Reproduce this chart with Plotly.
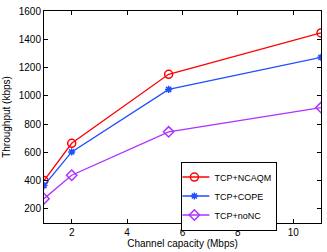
import plotly.graph_objects as go

capacity = [1, 2, 5.5, 11]
ncaqm = [400, 664, 1152, 1445]
cope = [365, 603, 1045, 1272]
nonc = [272, 438, 745, 917]

series = [
    ("TCP+NCAQM", ncaqm, "#ff0000", "circle-open", 8),
    ("TCP+COPE", cope, "#1f4fff", "asterisk-open", 6),
    ("TCP+noNC", nonc, "#b030ff", "diamond-open", 8),
]

fig = go.Figure()
for name, vals, col, sym, sz in series:
    fig.add_trace(go.Scatter(
        x=capacity, y=vals, name=name, mode="lines+markers",
        line=dict(color=col, width=1.3),
        marker=dict(symbol=sym, size=sz, color=col, line=dict(color=col, width=1.5)),
    ))
fig.add_trace(go.Scatter(x=capacity, y=cope, mode="markers", showlegend=False,
                         marker=dict(symbol="circle", size=4, color="#1f4fff")))

axis_common = dict(
    showline=True, linecolor="black", linewidth=1, mirror="ticks",
    ticks="inside", ticklen=4, tickcolor="black", showgrid=False, zeroline=False,
    tickfont=dict(family="Liberation Sans, Arial", size=10, color="black"),
)
fig.update_layout(
    width=327, height=252,
    margin=dict(l=44, r=5, t=7, b=25),
    plot_bgcolor="white", paper_bgcolor="white",
    font=dict(family="Liberation Sans, Arial", size=10, color="black"),
    xaxis=dict(range=[1, 11], tickvals=[2, 4, 6, 8, 10],
               title=dict(text="Channel capacity (Mbps)", standoff=2, font=dict(size=10)),
               **axis_common),
    yaxis=dict(range=[100, 1600], tickvals=[200, 400, 600, 800, 1000, 1200, 1400, 1600],
               title=dict(text="Throughput (kbps)", standoff=6, font=dict(size=10)),
               **axis_common),
    legend=dict(x=0.496, y=0.29, xanchor="left", yanchor="top",
                bordercolor="black", borderwidth=1, bgcolor="white",
                font=dict(size=9), tracegroupgap=0, itemwidth=30,
                indentation=-8),
    showlegend=True,
)
fig.write_html("out.html", config={"displayModeBar": False},
               post_script="document.body.style.margin='0';document.body.style.overflow='hidden';")
